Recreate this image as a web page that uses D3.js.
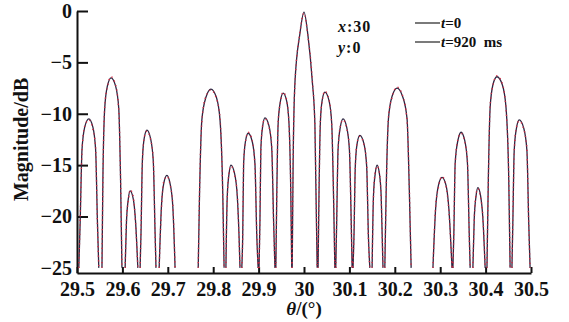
<!DOCTYPE html>
<html lang="en">
<head>
    <meta charset="UTF-8">
    <title>Magnitude vs angle</title>
    <style>
        body {
            margin: 0;
            padding: 0;
            background-color: #fff;
        }

        svg text {
            font-family: "Liberation Serif", "Times New Roman", serif;
            font-weight: bold;
            fill: #111;
        }

        .axis path,
        .axis line {
            stroke: #111;
            stroke-width: 2;
        }
    </style>
</head>
<body>
    <div id="chart"></div>
    <script src="https://d3js.org/d3.v7.min.js"></script>
    <script>
        // sampled angles (deg); null splits lobes where the level drops under -25 dB
        const theta = [
            29.504, 29.507, 29.511, 29.517, 29.526, 29.535, 29.541, 29.545, 29.548, null,
            29.555, 29.557, 29.561, 29.567, 29.575, 29.585, 29.592, 29.596, 29.599, null,
            29.606, 29.609, 29.613, 29.617, 29.624, 29.629, 29.634, null,
            29.639, 29.641, 29.644, 29.648, 29.654, 29.662, 29.668, 29.672, 29.674, null,
            29.681, 29.686, 29.691, 29.698, 29.705, 29.711, 29.716, null,
            29.767, 29.770, 29.775, 29.784, 29.795, 29.807, 29.815, 29.821, 29.824, null,
            29.828, 29.829, 29.831, 29.835, 29.839, 29.847, 29.853, 29.857, 29.859, null,
            29.863, 29.865, 29.867, 29.871, 29.877, 29.886, 29.892, 29.896, 29.899, null,
            29.901, 29.903, 29.905, 29.909, 29.914, 29.923, 29.929, 29.933, 29.936, null,
            29.938, 29.940, 29.943, 29.948, 29.954, 29.962, 29.967, 29.971, 29.973, null,
            29.974, 29.976, 29.980, 29.991, 30.000, 30.009, 30.018, 30.024, 30.029, null,
            30.031, 30.033, 30.036, 30.040, 30.046, 30.055, 30.061, 30.065, 30.068, null,
            30.070, 30.072, 30.075, 30.080, 30.086, 30.094, 30.100, 30.104, 30.106, null,
            30.108, 30.110, 30.113, 30.117, 30.123, 30.132, 30.138, 30.142, 30.145, null,
            30.150, 30.153, 30.157, 30.161, 30.166, 30.170, 30.174, null,
            30.178, 30.181, 30.186, 30.194, 30.205, 30.217, 30.227, 30.232, 30.236, null,
            30.284, 30.290, 30.296, 30.304, 30.313, 30.319, 30.326, null,
            30.328, 30.330, 30.333, 30.339, 30.346, 30.354, 30.360, 30.364, 30.366, null,
            30.372, 30.375, 30.379, 30.383, 30.389, 30.394, 30.399, null,
            30.403, 30.406, 30.410, 30.416, 30.425, 30.437, 30.445, 30.451, 30.454, null,
            30.458, 30.460, 30.463, 30.468, 30.474, 30.484, 30.491, 30.495, 30.498
        ];

        // t = 0
        const magT0 = [
            -25, -20.5, -13.5, -11.3, -10.5, -11.3, -13.5, -20.5, -25, null,
            -25, -16.5, -9.5, -7.3, -6.5, -7.3, -9.5, -16.5, -25, null,
            -25, -20.5, -18.3, -17.5, -18.3, -20.5, -25, null,
            -25, -21.6, -14.6, -12.4, -11.6, -12.4, -14.6, -21.6, -25, null,
            -25, -19.0, -16.8, -16.0, -16.8, -19.0, -25, null,
            -25, -17.6, -10.6, -8.4, -7.6, -8.4, -10.6, -17.6, -25, null,
            -25, -22.0, -18.0, -15.8, -15.0, -15.8, -18.0, -22.0, -25, null,
            -25, -21.9, -14.9, -12.7, -11.9, -12.7, -14.9, -21.9, -25, null,
            -25, -20.4, -13.4, -11.2, -10.4, -11.2, -13.4, -20.4, -25, null,
            -25, -18.0, -11.0, -8.8, -8.0, -8.8, -11.0, -18.0, -25, null,
            -25, -15.0, -7.0, -2.2, -0.1, -2.5, -6.7, -11.0, -25, null,
            -25, -17.9, -10.9, -8.7, -7.9, -8.7, -10.9, -17.9, -25, null,
            -25, -20.5, -13.5, -11.3, -10.5, -11.3, -13.5, -20.5, -25, null,
            -25, -22.1, -15.1, -12.9, -12.1, -12.9, -15.1, -22.1, -25, null,
            -25, -18.0, -15.8, -15.0, -15.8, -18.0, -25, null,
            -25, -17.5, -10.5, -8.3, -7.5, -8.3, -10.5, -17.5, -25, null,
            -25, -19.2, -17.0, -16.2, -17.0, -19.2, -25, null,
            -25, -21.8, -14.8, -12.6, -11.8, -12.6, -14.8, -21.8, -25, null,
            -25, -20.2, -18.0, -17.2, -18.0, -20.2, -25, null,
            -25, -16.4, -9.4, -7.2, -6.4, -7.2, -9.4, -16.4, -25, null,
            -25, -20.6, -13.6, -11.4, -10.6, -11.4, -13.6, -20.6, -25
        ];

        // t = 920 ms
        const magT920 = [
            -25, -20.2, -13.7, -11.2, -10.6, -11.5, -13.3, -20.8, -25, null,
            -25, -16.8, -9.3, -7.4, -6.4, -7.2, -9.7, -16.2, -25, null,
            -25, -20.3, -18.5, -17.4, -18.1, -20.7, -25, null,
            -25, -21.3, -14.8, -12.3, -11.7, -12.5, -14.4, -21.8, -25, null,
            -25, -19.3, -16.6, -16.1, -16.9, -18.8, -25, null,
            -25, -17.3, -10.8, -8.3, -7.7, -8.5, -10.4, -17.9, -25, null,
            -25, -21.7, -18.2, -15.7, -15.1, -15.9, -17.8, -22.3, -25, null,
            -25, -22.1, -14.7, -12.8, -11.8, -12.6, -15.2, -21.6, -25, null,
            -25, -20.1, -13.6, -11.1, -10.5, -11.3, -13.2, -20.7, -25, null,
            -25, -18.3, -10.8, -8.9, -7.9, -8.7, -11.2, -17.7, -25, null,
            -25, -14.7, -7.2, -2.1, -0.2, -2.6, -6.5, -11.3, -25, null,
            -25, -18.2, -10.7, -8.8, -7.8, -8.6, -11.1, -17.6, -25, null,
            -25, -20.3, -13.7, -11.2, -10.6, -11.4, -13.3, -20.8, -25, null,
            -25, -21.8, -15.3, -12.8, -12.2, -13.0, -14.9, -22.4, -25, null,
            -25, -18.2, -15.6, -15.1, -15.7, -18.3, -25, null,
            -25, -17.8, -10.3, -8.4, -7.4, -8.2, -10.7, -17.2, -25, null,
            -25, -19.0, -17.2, -16.1, -17.1, -19.4, -25, null,
            -25, -21.5, -15.0, -12.5, -11.9, -12.7, -14.6, -22.0, -25, null,
            -25, -20.4, -17.8, -17.3, -18.2, -20.0, -25, null,
            -25, -16.7, -9.2, -7.3, -6.3, -7.1, -9.6, -16.1, -25, null,
            -25, -20.3, -13.8, -11.3, -10.7, -11.5, -13.4, -20.9, -25
        ];

        const xTicks = [29.5, 29.6, 29.7, 29.8, 29.9, 30.0, 30.1, 30.2, 30.3, 30.4, 30.5];
        const yTicks = [0, -5, -10, -15, -20, -25];

        const width = 569;
        const height = 322;
        const margin = { top: 11, right: 38, bottom: 49, left: 77 };

        const svg = d3.select("#chart")
            .append("svg")
            .attr("width", width)
            .attr("height", height);

        const xScale = d3.scaleLinear().domain([29.5, 30.5]).range([margin.left, width - margin.right]);
        const yScale = d3.scaleLinear().domain([-25.5, 0]).range([height - margin.bottom, margin.top]);

        // axes with ticks pointing into the plot
        const xAxis = d3.axisBottom(xScale)
            .tickValues(xTicks)
            .tickFormat(d => String(+d.toFixed(1)))
            .tickSizeInner(-6)
            .tickSizeOuter(0)
            .tickPadding(9);

        const yAxis = d3.axisLeft(yScale)
            .tickValues(yTicks)
            .tickFormat(d3.format("d"))
            .tickSizeInner(-11)
            .tickSizeOuter(0)
            .tickPadding(5);

        const gx = svg.append("g")
            .attr("class", "axis")
            .attr("transform", `translate(0,${height - margin.bottom})`)
            .call(xAxis);

        const gy = svg.append("g")
            .attr("class", "axis")
            .attr("transform", `translate(${margin.left},0)`)
            .call(yAxis);

        gx.selectAll("text").attr("font-size", 20).attr("fill", "#111");
        gy.selectAll("text").attr("font-size", 20).attr("fill", "#111");
        gy.selectAll(".tick").filter(d => d === -25).select("line").remove();

        // axis titles
        const xTitle = svg.append("text")
            .attr("x", xScale(30))
            .attr("y", 315)
            .attr("text-anchor", "middle")
            .attr("font-size", 19);
        xTitle.append("tspan").attr("font-style", "italic").text("θ");
        xTitle.append("tspan").text("/(°)");

        svg.append("text")
            .attr("transform", `translate(28,${yScale(-12.5)}) rotate(-90)`)
            .attr("text-anchor", "middle")
            .attr("font-size", 20)
            .text("Magnitude/dB");

        const rowsT0 = theta.map((t, i) => ({ t: t, m: magT0[i] }));
        const rowsT920 = theta.map((t, i) => ({ t: t, m: magT920[i] }));

        const line = d3.line()
            .defined(d => d.t !== null && d.m !== null)
            .x(d => xScale(d.t))
            .y(d => yScale(d.m))
            .curve(d3.curveMonotoneX);

        svg.append("path")
            .datum(rowsT0)
            .attr("d", line)
            .attr("fill", "none")
            .attr("stroke", "#2e2742")
            .attr("stroke-width", 1.3);

        svg.append("path")
            .datum(rowsT920)
            .attr("d", line)
            .attr("fill", "none")
            .attr("stroke", "#d9263f")
            .attr("stroke-width", 1.4)
            .attr("stroke-dasharray", "1.2,3.5");

        // position note
        const note1 = svg.append("text").attr("x", 338).attr("y", 32).attr("font-size", 16).attr("letter-spacing", 1);
        note1.append("tspan").attr("font-style", "italic").text("x");
        note1.append("tspan").text(":30");
        const note2 = svg.append("text").attr("x", 338).attr("y", 53).attr("font-size", 16).attr("letter-spacing", 1);
        note2.append("tspan").attr("font-style", "italic").text("y");
        note2.append("tspan").text(":0");

        // legend
        const legendItems = [
            { label: "=0", y: 23 },
            { label: "=920  ms", y: 42 }
        ];
        const legend = svg.append("g");
        legendItems.forEach(item => {
            legend.append("line")
                .attr("x1", 415).attr("x2", 440)
                .attr("y1", item.y).attr("y2", item.y)
                .attr("stroke", "#222")
                .attr("stroke-width", 1.2);
            const txt = legend.append("text")
                .attr("x", 441)
                .attr("y", item.y + 5)
                .attr("font-size", 15)
                .attr("xml:space", "preserve")
                .style("white-space", "pre");
            txt.append("tspan").attr("font-style", "italic").text("t");
            txt.append("tspan").text(item.label);
        });
    </script>
</body>
</html>
